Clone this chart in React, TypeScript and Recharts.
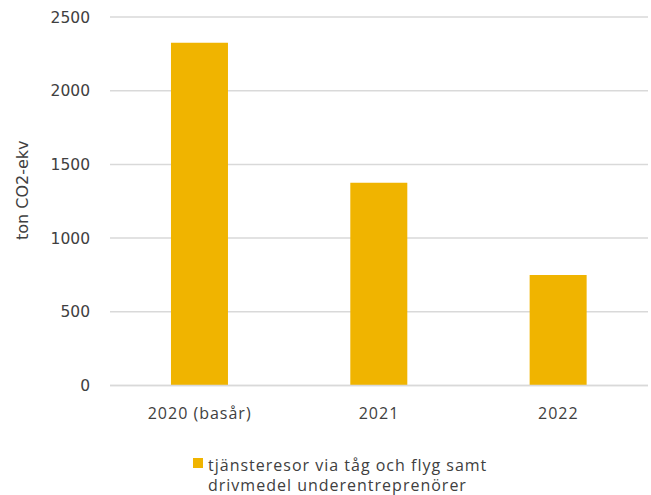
import React from 'react';
import { BarChart, Bar, XAxis, YAxis, CartesianGrid, Legend, Label } from 'recharts';

const categories = ['2020 (basår)', '2021', '2022'];
const values = [2325, 1375, 750];
const seriesName = 'tjänsteresor via tåg och flyg samt drivmedel underentreprenörer';
const yTicks = [0, 500, 1000, 1500, 2000, 2500];
const yTitle = 'ton CO2-ekv';

const data = categories.map((c, i) => ({ category: c, value: values[i] }));

const BAR_COLOR = '#F0B400';
const TEXT_COLOR = '#404040';
const GRID_COLOR = '#D9D9D9';

const renderLegend = (props: any) => {
  const item = (props.payload && props.payload[0]) || { value: seriesName, color: BAR_COLOR };
  return (
    <div
      style={{
        height: 40,
        fontFamily: '"Open Sans", sans-serif',
        fontSize: 16,
        letterSpacing: 1,
        lineHeight: '20px',
        color: TEXT_COLOR,
      }}
    >
      <div style={{ display: 'flex', paddingLeft: 193 }}>
        <span
          style={{
            width: 10,
            height: 10,
            background: item.color || BAR_COLOR,
            marginTop: 3,
            marginRight: 5,
            flex: 'none',
          }}
        />
        <span style={{ width: 285 }}>{item.value}</span>
      </div>
    </div>
  );
};

const renderYLabel = (props: any) => {
  const vb = props.viewBox || { x: 0, y: 0, width: 0, height: 0 };
  const x = vb.x + 28;
  const y = vb.y + vb.height / 2 - 11;
  return (
    <text
      x={x}
      y={y}
      transform={`rotate(-90, ${x}, ${y})`}
      textAnchor="middle"
      fill={TEXT_COLOR}
      style={{ fontFamily: '"DejaVu Sans", sans-serif', fontSize: 16 }}
    >
      {yTitle}
    </text>
  );
};

export default function App() {
  return (
    <div style={{ position: 'absolute', left: 0, top: 0, width: 651, height: 495, background: '#fff' }}>
      <BarChart
        width={651}
        height={495}
        data={data}
        margin={{ top: 17, right: 3, left: 0, bottom: 0 }}
        barCategoryGap="34%"
      >
        <CartesianGrid vertical={false} stroke={GRID_COLOR} strokeWidth={1.5} />
        <XAxis
          dataKey="category"
          height={69.5}
          tickLine={false}
          axisLine={{ stroke: GRID_COLOR, strokeWidth: 1.5 }}
          tickMargin={16}
          tick={{ fill: TEXT_COLOR, fontSize: 16, fontFamily: '"Open Sans", sans-serif', letterSpacing: 1 }}
        />
        <YAxis
          width={110}
          domain={[0, 2500]}
          ticks={yTicks}
          axisLine={false}
          tickLine={false}
          tickMargin={14}
          tick={{ fill: TEXT_COLOR, fontSize: 15.5, fontFamily: '"DejaVu Sans", sans-serif' }}
        >
          <Label content={renderYLabel} />
        </YAxis>
        <Legend
          verticalAlign="bottom"
          content={renderLegend}
          wrapperStyle={{ left: 0, bottom: 0, width: 651, height: 40 }}
        />
        <Bar dataKey="value" name={seriesName} fill={BAR_COLOR} isAnimationActive={false} />
      </BarChart>
    </div>
  );
}
